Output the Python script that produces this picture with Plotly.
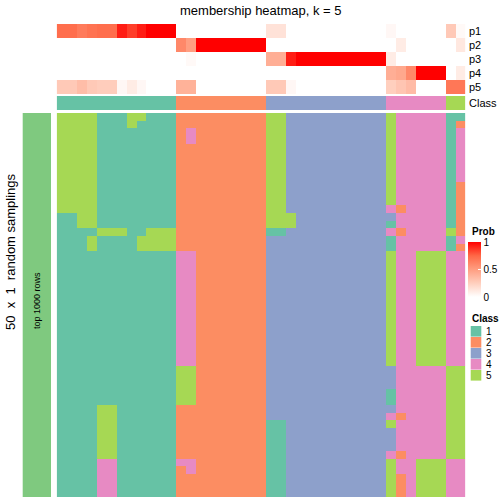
import plotly.graph_objects as go

# ---------------- data ----------------
n_cols = 41
class_labels = ["1", "2", "3", "4", "5"]
class_colors = ["#66C2A5", "#FC8D62", "#8DA0CB", "#E78AC3", "#A6D854"]
prob_rows = ["p1", "p2", "p3", "p4", "p5"]

# consensus class of each column
col_class = [1] * 12 + [2] * 9 + [3] * 12 + [4] * 6 + [5] * 2

# membership probabilities per column
p1 = [0.72, 0.72, 0.66, 0.70, 0.72, 0.72, 0.93, 0.85, 0.93, 1.0, 1.0, 1.0,
      0, 0, 0, 0, 0, 0, 0, 0, 0,
      0.15, 0.15, 0, 0, 0, 0, 0, 0, 0, 0, 0, 0,
      0.04, 0, 0, 0, 0, 0,
      0.28, 0.03]
p2 = [0, 0, 0, 0, 0, 0, 0, 0, 0, 0, 0, 0,
      0.6, 0.5, 1.0, 1.0, 1.0, 1.0, 1.0, 1.0, 1.0,
      0, 0, 0, 0, 0, 0, 0, 0, 0, 0, 0, 0,
      0, 0.1, 0, 0, 0, 0,
      0, 0.12]
p3 = [0, 0, 0, 0, 0, 0, 0, 0, 0, 0, 0, 0,
      0, 0.03, 0, 0, 0, 0, 0, 0, 0,
      0.42, 0.42, 0.93, 1.0, 1.0, 1.0, 1.0, 1.0, 1.0, 1.0, 1.0, 1.0,
      0.1, 0, 0, 0, 0, 0,
      0, 0]
p4 = [0, 0, 0, 0, 0, 0, 0, 0, 0, 0, 0, 0,
      0, 0, 0, 0, 0, 0, 0, 0, 0,
      0, 0, 0, 0, 0, 0, 0, 0, 0, 0, 0, 0,
      0.42, 0.45, 0.6, 1.0, 1.0, 1.0,
      0, 0.1]
p5 = [0.28, 0.28, 0.34, 0.28, 0.26, 0.26, 0.04, 0.1, 0.04, 0, 0, 0,
      0.4, 0.4, 0, 0, 0, 0, 0, 0, 0,
      0.28, 0.28, 0.04, 0, 0, 0, 0, 0, 0, 0, 0, 0,
      0.25, 0.3, 0.35, 0, 0, 0,
      0.68, 0.68]

# class assignment of each random sampling (rows) for each column,
# written per column group: 12 | 9 | 12 | 6 | 2
samplings = [
    "555511155111 222222222 553333333333 544444 11",  # 0
    "555511151111 222222222 553333333333 544444 12",  # 1
    "555511111111 242222222 553333333333 544444 14",  # 2
    "555511111111 242222222 553333333333 544444 14",  # 3
    "555511111111 222222222 553333333333 544444 14",  # 4
    "555511111111 222222222 553333333333 544444 14",  # 5
    "555511111111 222222222 553333333333 544444 14",  # 6
    "555511111111 222222222 553333333333 544444 14",  # 7
    "555511111111 222222222 553333333333 544444 14",  # 8
    "555511111111 222222222 553333333333 544444 12",  # 9
    "555511111111 222222222 553333333333 544444 12",  # 10
    "555511111111 222222222 553333333333 544444 12",  # 11
    "555511111111 222222222 553333333333 424444 12",  # 12
    "115511111111 222222222 555333333333 344444 12",  # 13
    "115511111111 222222222 555333333333 144444 12",  # 14
    "111155511555 222222222 113333333333 424444 52",  # 15
    "111511115555 222222222 333333333333 144444 14",  # 16
    "111511115555 222222222 333333333333 144444 12",  # 17
    "111111111111 442222222 333333333333 544555 44",  # 18
    "111111111111 442222222 333333333333 544555 44",  # 19
    "111111111111 442222222 333333333333 544555 44",  # 20
    "111111111111 442222222 333333333333 544555 44",  # 21
    "111111111111 442222222 333333333333 544555 44",  # 22
    "111111111111 442222222 333333333333 544555 44",  # 23
    "111111111111 442222222 333333333333 544555 44",  # 24
    "111111111111 442222222 333333333333 544555 44",  # 25
    "111111111111 442222222 333333333333 544555 44",  # 26
    "111111111111 442222222 333333333333 544555 44",  # 27
    "111111111111 442222222 333333333333 544555 44",  # 28
    "111111111111 442222222 333333333333 544555 44",  # 29
    "111111111111 442222222 333333333333 544555 44",  # 30
    "111111111111 442222222 333333333333 544555 44",  # 31
    "111111111111 442222222 333333333333 544555 44",  # 32
    "111111111111 552222222 333333333333 344444 55",  # 33
    "111111111111 552222222 333333333333 344444 55",  # 34
    "111111111111 552222222 333333333333 344444 55",  # 35
    "111111111111 552222222 333333333333 144444 55",  # 36
    "111111111111 552222222 333333333333 144444 55",  # 37
    "111155111111 222222222 333333333333 344444 55",  # 38
    "111155111111 222222222 333333333333 424444 55",  # 39
    "111155111111 222222222 113333333333 544444 55",  # 40
    "111155111111 222222222 113333333333 344444 55",  # 41
    "111155111111 222222222 113333333333 344444 55",  # 42
    "111155111111 222222222 113333333333 344444 55",  # 43
    "111155111111 222222222 113333333333 424444 55",  # 44
    "111144111111 442222222 113333333333 544555 44",  # 45
    "111144111111 242222222 113333333333 544555 44",  # 46
    "111144111111 222222222 113333333333 524555 44",  # 47
    "111144111111 222222222 113333333333 524555 44",  # 48
    "111144111111 222222222 113333333333 524555 44",  # 49
]
main_z = [[int(c) for c in "".join(row.split())] for row in samplings]
assert all(len(r) == n_cols for r in main_z)

# ---------------- layout helpers ----------------
W = H = 504


def fx(px):
    return px / W


def fy(px):
    return 1 - px / H


X0, X1 = 56.7, 465.2
cols = list(range(n_cols))

disc_scale = []
for i, c in enumerate(class_colors):
    disc_scale.append([i / 5, c])
    disc_scale.append([(i + 1) / 5, c])

prob_scale = [[0, "#FFFFFF"], [0.25, "#FFCFBE"], [0.5, "#FF9E81"],
              [0.75, "#FF6846"], [1, "#FF0000"]]

fig = go.Figure()

# membership probability rows
fig.add_trace(go.Heatmap(
    z=[p1, p2, p3, p4, p5], x=cols, y=list(range(5)),
    colorscale=prob_scale, zmin=0, zmax=1,
    xaxis="x", yaxis="y2", hoverinfo="skip",
    colorbar=dict(
        x=fx(468), xanchor="left", xpad=0,
        y=fy(242), yanchor="top", ypad=0,
        lenmode="pixels", len=55, thickness=13,
        tickvals=[0, 0.5, 1], ticktext=["0", "0.5", "1"],
        ticks="inside", ticklen=3, tickcolor="white",
        outlinewidth=0, tickfont=dict(size=10, family="Liberation Sans", color="black"),
    ),
))

# class row
fig.add_trace(go.Heatmap(
    z=[col_class], x=cols, y=[0],
    colorscale=disc_scale, zmin=0.5, zmax=5.5, showscale=False,
    xaxis="x", yaxis="y3", hoverinfo="skip",
))

# main heatmap
fig.add_trace(go.Heatmap(
    z=main_z, x=cols, y=list(range(len(main_z))),
    colorscale=disc_scale, zmin=0.5, zmax=5.5, showscale=False,
    xaxis="x", yaxis="y", hoverinfo="skip",
))

hidden = dict(showgrid=False, zeroline=False, showticklabels=False, ticks="", showline=False)
fig.update_layout(
    width=W, height=H, autosize=False,
    margin=dict(l=0, r=0, t=0, b=0),
    paper_bgcolor="white", plot_bgcolor="white",
    font=dict(family="Liberation Sans", color="black"),
    xaxis=dict(domain=[fx(X0), fx(X1)], range=[-0.5, n_cols - 0.5], **hidden),
    yaxis=dict(domain=[fy(497), fy(113)], range=[len(main_z) - 0.5, -0.5], anchor="x", **hidden),
    yaxis2=dict(domain=[fy(94), fy(24)], range=[4.5, -0.5], anchor="x", **hidden),
    yaxis3=dict(domain=[fy(110), fy(96)], range=[0.5, -0.5], anchor="x", **hidden),
    showlegend=False,
)

shapes = []
annotations = []

# left sampling bar
shapes.append(dict(type="rect", xref="paper", yref="paper",
                   x0=fx(22.7), x1=fx(51), y0=fy(497), y1=fy(113),
                   fillcolor="#7FC97F", line=dict(width=0), layer="below"))

annotations.append(dict(text="membership heatmap, k = 5", x=fx(261), y=fy(10),
                        xref="paper", yref="paper", showarrow=False,
                        font=dict(size=13), xanchor="center", yanchor="middle"))
annotations.append(dict(text="50  x  1  random samplings", x=fx(10), y=fy(252),
                        xref="paper", yref="paper", showarrow=False, textangle=-90,
                        font=dict(size=13), xanchor="center", yanchor="middle"))
annotations.append(dict(text="top 1000 rows", x=fx(37), y=fy(301),
                        xref="paper", yref="paper", showarrow=False, textangle=-90,
                        font=dict(size=9), xanchor="center", yanchor="middle"))

# row labels for annotation tracks
for i, lab in enumerate(prob_rows):
    annotations.append(dict(text=lab, x=fx(467), y=fy(31 + 14 * i),
                            xref="paper", yref="paper", showarrow=False,
                            font=dict(size=11), xanchor="left", yanchor="middle"))
annotations.append(dict(text="Class", x=fx(467), y=fy(103),
                        xref="paper", yref="paper", showarrow=False,
                        font=dict(size=11), xanchor="left", yanchor="middle"))

# legend titles
annotations.append(dict(text="<b>Prob</b>", x=fx(470), y=fy(232),
                        xref="paper", yref="paper", showarrow=False,
                        font=dict(size=10), xanchor="left", yanchor="middle"))
annotations.append(dict(text="<b>Class</b>", x=fx(470), y=fy(318),
                        xref="paper", yref="paper", showarrow=False,
                        font=dict(size=10), xanchor="left", yanchor="middle"))

# class legend keys
for i, (lab, col) in enumerate(zip(class_labels, class_colors)):
    top = 326 + 11 * i
    shapes.append(dict(type="rect", xref="paper", yref="paper",
                       x0=fx(470.7), x1=fx(481.3), y0=fy(top + 10.6), y1=fy(top),
                       fillcolor=col, line=dict(width=0)))
    annotations.append(dict(text=lab, x=fx(484), y=fy(top + 5.5),
                            xref="paper", yref="paper", showarrow=False,
                            font=dict(size=10), xanchor="left", yanchor="middle"))

fig.update_layout(shapes=shapes, annotations=annotations)
fig.write_html("out.html", config={"displayModeBar": False},
               post_script="document.body.style.margin='0px';document.body.style.overflow='hidden';")
